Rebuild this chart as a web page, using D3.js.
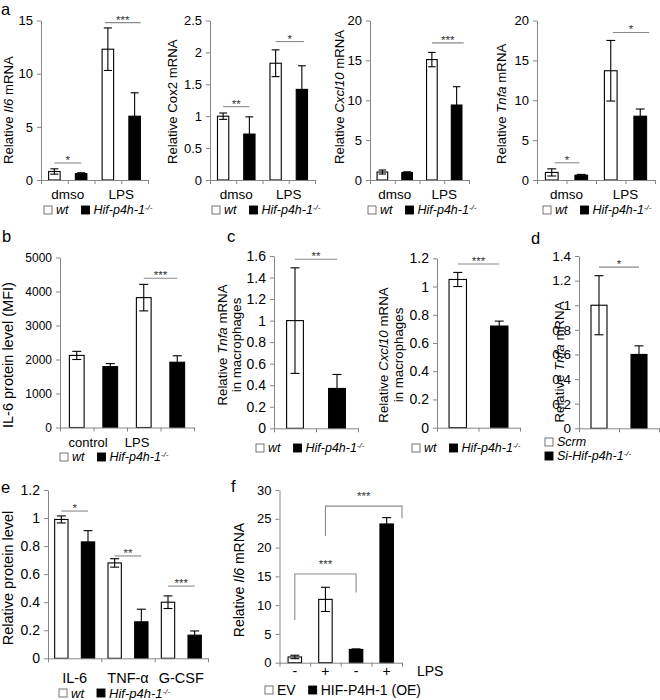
<!DOCTYPE html>
<html><head><meta charset="utf-8">
<script src="https://cdn.jsdelivr.net/npm/d3@7"></script>
<style>
html,body{margin:0;padding:0;background:#fff;}
svg text{font-family:"Liberation Sans",Arial,Helvetica,sans-serif;}
</style></head><body>
<svg id="fig" width="660" height="700"></svg>
<script>
// ================= DATA =================
// Panel a : qPCR in BMDM, dmso vs LPS
const aGroups = ["dmso", "LPS"];
const il6WT = [0.8, 12.3],  il6WTErr = [0.25, 2.0],  il6KO = [0.6, 6.0],   il6KOErr = [0.08, 2.2];
const cox2WT = [1.0, 1.83], cox2WTErr = [0.05, 0.21], cox2KO = [0.72, 1.42], cox2KOErr = [0.27, 0.37];
const cxcl10WT = [1.0, 15.1], cxcl10WTErr = [0.25, 0.9], cxcl10KO = [0.95, 9.4], cxcl10KOErr = [0.08, 2.3];
const tnfaWT = [0.95, 13.7], tnfaWTErr = [0.45, 3.8], tnfaKO = [0.6, 8.0], tnfaKOErr = [0.1, 0.9];
const il6Ticks = [0, 5, 10, 15];
const cox2Ticks = [0, 0.5, 1, 1.5, 2, 2.5];
const cxcl10Ticks = [0, 5, 10, 15, 20];
const tnfaTicks = [0, 5, 10, 15, 20];
const aSig = [["*", "***"], ["**", "*"], ["", "***"], ["*", "*"]];

// Panel b : IL-6 protein (MFI)
const bGroups = ["control", "LPS"];
const bWT = [2120, 3820], bWTErr = [120, 390], bKO = [1790, 1920], bKOErr = [90, 190];
const bTicks = [0, 1000, 2000, 3000, 4000, 5000];

// Panel c : macrophages
const c1Values = [1.0, 0.37], c1Err = [0.49, 0.13];
const c1Ticks = [0, 0.2, 0.4, 0.6, 0.8, 1, 1.2, 1.4, 1.6];
const c2Values = [1.05, 0.72], c2Err = [0.05, 0.035];
const c2Ticks = [0, 0.2, 0.4, 0.6, 0.8, 1, 1.2];

// Panel d : siRNA
const dValues = [1.0, 0.6], dErr = [0.24, 0.07];
const dTicks = [0, 0.2, 0.4, 0.6, 0.8, 1, 1.2, 1.4];

// Panel e : relative protein level
const eCategories = ["IL-6", "TNF-\u03b1", "G-CSF"];
const eWT = [0.99, 0.68, 0.40], eWTErr = [0.025, 0.03, 0.045];
const eKO = [0.83, 0.26, 0.165], eKOErr = [0.08, 0.09, 0.03];
const eTicks = [0, 0.2, 0.4, 0.6, 0.8, 1, 1.2];

// Panel f : overexpression
const fLPS = ["-", "+", "-", "+"];
const fRowLabel = "LPS";
const fValues = [1.0, 11.0, 2.3, 24.1], fErr = [0.3, 2.1, 0.1, 1.1];
const fSeriesOfBar = [0, 0, 1, 1];
const fTicks = [0, 5, 10, 15, 20, 25, 30];

// ================= DRAWING =================
const svg = d3.select("#fig");
const AXIS = "#868686", SIG = "#8a8a8a", W = "#fff", B = "#000";

function rich(sel, parts) {
  parts.forEach(p => {
    const ts = sel.append("tspan").text(p.t);
    if (p.it) ts.attr("font-style", "italic");
    if (p.sup) ts.attr("font-size", "0.62em").attr("baseline-shift", "super");
  });
}
function paired(wt, wtE, ko, koE) {
  const out = [];
  wt.forEach((v, i) => { out.push({v: v, e: wtE[i], fill: W}); out.push({v: ko[i], e: koE[i], fill: B}); });
  return out;
}

function panel(c) {
  const g = svg.append("g");
  const n = c.slots.length;
  const xb = d3.scaleBand().domain(d3.range(n)).range([c.x0, c.x1]).padding(0);
  const xl = d3.scaleLinear().domain([0, n]).range([c.x0, c.x1]);
  const y = d3.scaleLinear().domain([0, c.max]).range([c.yB, c.yT]);
  const cxOf = i => xb(i) + xb.bandwidth() / 2;

  // bars
  const bw = xb.bandwidth() * c.frac;
  g.append("g").selectAll("rect").data(c.slots).join("rect")
    .attr("x", (d, i) => cxOf(i) - bw / 2)
    .attr("y", d => y(d.v))
    .attr("width", bw)
    .attr("height", d => y(0) - y(d.v))
    .attr("fill", d => d.fill).attr("stroke", "#000").attr("stroke-width", 1.1);

  // error bars
  const cap = Math.min(9, bw * 0.7);
  const eg = g.append("g").attr("stroke", "#000").attr("stroke-width", 1.1);
  c.slots.forEach((d, i) => {
    const cx = cxOf(i);
    eg.append("line").attr("x1", cx).attr("x2", cx).attr("y1", y(d.v + d.e)).attr("y2", y(Math.max(0, d.v - d.e)));
    [d.v + d.e, d.v - d.e].forEach(v =>
      eg.append("line").attr("x1", cx - cap / 2).attr("x2", cx + cap / 2).attr("y1", y(v)).attr("y2", y(v)));
  });

  // axes
  const yAx = g.append("g").attr("transform", `translate(${c.x0},0)`)
    .call(d3.axisLeft(y).tickValues(c.ticks).tickSize(4).tickSizeOuter(0).tickPadding(4).tickFormat(d => String(d)));
  yAx.selectAll("path,line").attr("stroke", AXIS);
  yAx.selectAll("text").attr("font-size", c.tickFs).attr("fill", "#000")
    .style("font-family", '"Liberation Sans",Arial,sans-serif');
  const xAx = g.append("g").attr("transform", `translate(0,${c.yB})`)
    .call(d3.axisBottom(xl).tickValues(c.xTicks).tickSize(4).tickSizeOuter(0).tickFormat(""));
  xAx.selectAll("path,line").attr("stroke", AXIS);

  // significance lines
  (c.sigs || []).forEach(s => {
    if (!s.label) return;
    const xa = cxOf(s.a) + (s.da || 0), xz = cxOf(s.b) + (s.dz || 0);
    g.append("line").attr("x1", xa).attr("x2", xz).attr("y1", y(s.y)).attr("y2", y(s.y))
      .attr("stroke", SIG).attr("stroke-width", 1.1);
    g.append("text").attr("x", (xa + xz) / 2).attr("y", y(s.y) + 1).attr("text-anchor", "middle")
      .attr("font-size", 11.5).attr("fill", "#333").text(s.label);
  });
  (c.brackets || []).forEach(b => {
    const xa = cxOf(b.a), xz = b.toEnd ? xb(b.b) + xb.bandwidth() : cxOf(b.b);
    g.append("path").attr("d", `M${xa},${y(b.y0)}V${y(b.top)}H${xz}V${y(b.y1)}`)
      .attr("fill", "none").attr("stroke", SIG).attr("stroke-width", 1.1);
    g.append("text").attr("x", (xa + xz) / 2).attr("y", y(b.top) - 6).attr("text-anchor", "middle")
      .attr("font-size", 11.5).attr("fill", "#333").text(b.label);
  });

  // category labels
  (c.cats || []).forEach(t => g.append("text").attr("x", xl(t.pos)).attr("y", c.catY)
    .attr("text-anchor", "middle").attr("font-size", c.catFs).attr("fill", "#000").text(t.text));

  // y label
  c.ylab.lines.forEach(l => {
    const t = g.append("text").attr("transform", `translate(${l.x},${c.ylab.y}) rotate(-90)`)
      .attr("text-anchor", c.ylab.anchor || "middle").attr("dy", "0.35em")
      .attr("font-size", c.ylab.fs).attr("fill", "#000");
    rich(t, l.parts);
  });
  return {xb, xl, y};
}

function legend(x, y, items, fs) {
  let cx = x;
  items.forEach(it => {
    svg.append("rect").attr("x", cx).attr("y", y - 4).attr("width", 8).attr("height", 8)
      .attr("fill", it.fill).attr("stroke", it.fill === W ? "#666" : "#000").attr("stroke-width", 0.9);
    const t = svg.append("text").attr("x", cx + 12).attr("y", y).attr("dy", "0.35em")
      .attr("font-size", fs).attr("fill", "#000");
    rich(t, it.parts);
    cx += 12 + t.node().getComputedTextLength() + 13;
  });
}
function letter(x, y, s) {
  svg.append("text").attr("x", x).attr("y", y).attr("font-size", 16.5).attr("fill", "#000").text(s);
}

const wtKO = [
  {fill: W, parts: [{t: "wt", it: true}]},
  {fill: B, parts: [{t: "Hif-p4h-1", it: true}, {t: "-/-", it: true, sup: true}]}
];

// ---------- Panel a ----------
const aPanels = [
  {x0: 41,  x1: 148, max: 15, ticks: il6Ticks,    d: paired(il6WT, il6WTErr, il6KO, il6KOErr),
   sigY: [1.6, 14.8], sigD: [[0, 0], [-3, 6]], lx: 8,   gene: "Il6",    geneIt: true, leg: 44},
  {x0: 210, x1: 315, max: 2.5, ticks: cox2Ticks, d: paired(cox2WT, cox2WTErr, cox2KO, cox2KOErr),
   sigY: [1.15, 2.17], sigD: [[0, 0], [0, 2]], lx: 172, gene: "Cox2",  geneIt: false, leg: 212},
  {x0: 370, x1: 469, max: 20, ticks: cxcl10Ticks, d: paired(cxcl10WT, cxcl10WTErr, cxcl10KO, cxcl10KOErr),
   sigY: [0, 17.2], sigD: [[0, 0], [0, 7]], lx: 339, gene: "Cxcl10", geneIt: true, leg: 368},
  {x0: 537, x1: 655, max: 20, ticks: tnfaTicks,   d: paired(tnfaWT, tnfaWTErr, tnfaKO, tnfaKOErr),
   sigY: [2.16, 18.5], sigD: [[3, -2], [2, 9]], lx: 501, gene: "Tnfa",  geneIt: true, leg: 543}
];
aPanels.forEach((p, k) => {
  panel({
    x0: p.x0, x1: p.x1, yB: 180, yT: 20.5, max: p.max, ticks: p.ticks, tickFs: 13,
    slots: p.d, frac: 0.43, xTicks: [0, 1, 2, 3, 4],
    sigs: [
      {a: 0, b: 1, y: p.sigY[0], label: aSig[k][0], da: p.sigD[0][0], dz: p.sigD[0][1]},
      {a: 2, b: 3, y: p.sigY[1], label: aSig[k][1], da: p.sigD[1][0], dz: p.sigD[1][1]}
    ],
    cats: [{pos: 1, text: aGroups[0]}, {pos: 3, text: aGroups[1]}], catY: 199, catFs: 13.5,
    ylab: {y: 164, anchor: "start", fs: 13.2,
      lines: [{x: p.lx, parts: [{t: "Relative "}, {t: p.gene, it: p.geneIt}, {t: " mRNA"}]}]}
  });
  legend(p.leg, 210, wtKO, 12.5);
});
letter(1, 15, "a");

// ---------- Panel b ----------
panel({
  x0: 60, x1: 194, yB: 427.5, yT: 257.5, max: 5000, ticks: bTicks, tickFs: 12,
  slots: paired(bWT, bWTErr, bKO, bKOErr), frac: 0.44, xTicks: [0, 1, 2, 3, 4],
  sigs: [{a: 2, b: 3, y: 4390, label: "***"}],
  cats: [{pos: 0.84, text: bGroups[0]}, {pos: 2.3, text: bGroups[1]}], catY: 447, catFs: 13,
  ylab: {y: 428, anchor: "start", fs: 14.5, lines: [{x: 8, parts: [{t: "IL-6 protein level (MFI)"}]}]}
});
legend(60, 457, wtKO, 12.5);
letter(2, 242, "b");

// ---------- Panel c ----------
panel({
  x0: 274, x1: 358, yB: 428.3, yT: 256, max: 1.6, ticks: c1Ticks, tickFs: 14,
  slots: [{v: c1Values[0], e: c1Err[0], fill: W}, {v: c1Values[1], e: c1Err[1], fill: B}],
  frac: 0.4, xTicks: [0, 1, 2],
  sigs: [{a: 0, b: 1, y: 1.57, label: "**"}],
  ylab: {y: 345, fs: 13.3, lines: [
    {x: 222, parts: [{t: "Relative "}, {t: "Tnfa", it: true}, {t: " mRNA"}]},
    {x: 236, parts: [{t: "in macrophages"}]}]}
});
legend(256, 448, wtKO, 12.5);
panel({
  x0: 437, x1: 520, yB: 427.7, yT: 258.3, max: 1.2, ticks: c2Ticks, tickFs: 14,
  slots: [{v: c2Values[0], e: c2Err[0], fill: W}, {v: c2Values[1], e: c2Err[1], fill: B}],
  frac: 0.42, xTicks: [0, 1, 2],
  sigs: [{a: 0, b: 1, y: 1.16, label: "***"}],
  ylab: {y: 355, fs: 13.3, lines: [
    {x: 383, parts: [{t: "Relative "}, {t: "Cxcl10", it: true}, {t: " mRNA"}]},
    {x: 398, parts: [{t: "in macrophages"}]}]}
});
legend(412, 448, wtKO, 12.5);
letter(227, 242, "c");

// ---------- Panel d ----------
panel({
  x0: 579, x1: 659, yB: 428.3, yT: 256, max: 1.4, ticks: dTicks, tickFs: 13.5,
  slots: [{v: dValues[0], e: dErr[0], fill: W}, {v: dValues[1], e: dErr[1], fill: B}],
  frac: 0.4, xTicks: [0, 1, 2],
  sigs: [{a: 0, b: 1, y: 1.31, label: "*"}],
  ylab: {y: 362, fs: 13.3, lines: [{x: 559, parts: [{t: "Relative "}, {t: "Tnfa", it: true}, {t: " mRNA"}]}]}
});
legend(545, 442, [{fill: W, parts: [{t: "Scrm", it: true}]}], 12.5);
legend(545, 456, [{fill: B, parts: [{t: "Si-Hif-p4h-1", it: true}, {t: "-/-", it: true, sup: true}]}], 12.5);
letter(531, 244, "d");

// ---------- Panel e ----------
panel({
  x0: 48, x1: 208, yB: 658.3, yT: 490, max: 1.2, ticks: eTicks, tickFs: 14,
  slots: paired(eWT, eWTErr, eKO, eKOErr), frac: 0.5, xTicks: [0, 2, 4, 6],
  sigs: [{a: 0, b: 1, y: 1.05, label: "*"}, {a: 2, b: 3, y: 0.73, label: "**"}, {a: 4, b: 5, y: 0.515, label: "***"}],
  cats: eCategories.map((t, i) => ({pos: 2 * i + 1, text: t})), catY: 683, catFs: 14.5,
  ylab: {y: 578, fs: 14.5, lines: [{x: 8, parts: [{t: "Relative protein level"}]}]}
});
legend(59, 693, wtKO, 13);
letter(1, 493, "e");

// ---------- Panel f ----------
const fr = panel({
  x0: 279.5, x1: 402, yB: 662.7, yT: 490, max: 30, ticks: fTicks, tickFs: 13,
  slots: fValues.map((v, i) => ({v: v, e: fErr[i], fill: fSeriesOfBar[i] ? B : W})),
  frac: 0.44, xTicks: [0, 1, 2, 3, 4],
  brackets: [
    {a: 0, b: 2, y0: 7.4, top: 15.4, y1: 12.2, label: "***"},
    {a: 1, b: 3, toEnd: true, y0: 22, top: 27.2, y1: 25.1, label: "***"}
  ],
  cats: fLPS.map((t, i) => ({pos: i + 0.5, text: t})), catY: 676, catFs: 14,
  ylab: {y: 580, fs: 14, lines: [{x: 239, parts: [{t: "Relative "}, {t: "Il6", it: true}, {t: " mRNA"}]}]}
});
svg.append("text").attr("x", fr.xl(4) + 15).attr("y", 676).attr("font-size", 14).attr("fill", "#000").text(fRowLabel);
legend(265, 690, [{fill: W, parts: [{t: "EV"}]}, {fill: B, parts: [{t: "HIF-P4H-1 (OE)"}]}], 14);
letter(231, 492, "f");
</script>
</body></html>
